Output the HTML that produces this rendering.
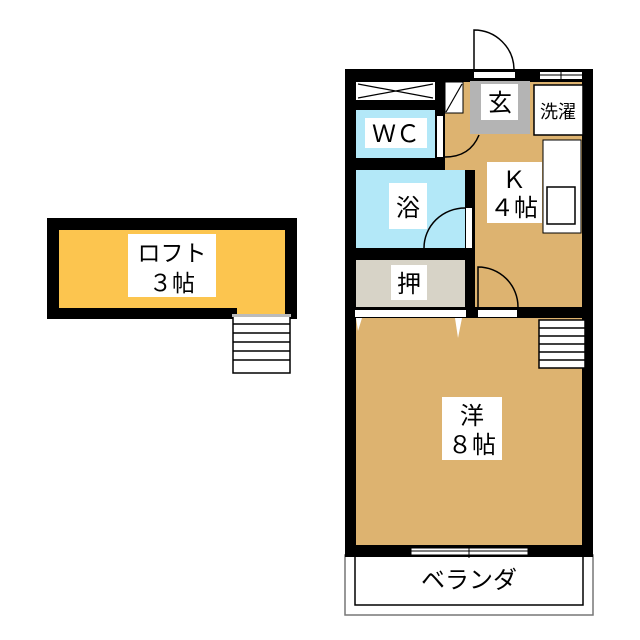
<!DOCTYPE html>
<html><head><meta charset="utf-8"><style>
html,body{margin:0;padding:0;background:#fff;}
svg{display:block;}
text{font-family:"Liberation Sans","Noto Sans CJK JP",sans-serif;fill:#000;}
</style></head><body>
<svg width="640" height="640" viewBox="0 0 640 640" xmlns="http://www.w3.org/2000/svg">
<rect x="47" y="218" width="250" height="101" fill="#000"/>
<rect x="59" y="230" width="226" height="78" fill="#fcc54f"/>
<rect x="237" y="300" width="48" height="19" fill="#fcc54f"/>
<rect x="128" y="234" width="88" height="63" fill="#fff"/>
<text x="172" y="261" font-size="23" text-anchor="middle">ロフト</text>
<text x="172" y="291" font-size="23" text-anchor="middle">３帖</text>
<rect x="233" y="315" width="57" height="58" fill="#fff" stroke="#000" stroke-width="1.5"/>
<rect x="232" y="314" width="59" height="3" fill="#bbb"/>
<g stroke="#000" stroke-width="1.5">
<line x1="233" y1="324" x2="290" y2="324"/><line x1="233" y1="333" x2="290" y2="333"/>
<line x1="233" y1="342" x2="290" y2="342"/><line x1="233" y1="351" x2="290" y2="351"/>
<line x1="233" y1="360" x2="290" y2="360"/></g>

<rect x="345" y="555" width="248" height="60" fill="#fff" stroke="#777" stroke-width="1.5"/>
<rect x="355" y="555" width="228" height="50" fill="#fff" stroke="#000" stroke-width="1.5"/>
<text x="469" y="588" font-size="24" text-anchor="middle">ベランダ</text>

<rect x="345" y="69" width="248" height="488" fill="#000"/>
<polygon points="445,82 582,82 582,307 475,307 475,170 445,170" fill="#ddb370"/>
<rect x="356" y="318" width="226" height="227" fill="#ddb370"/>
<rect x="356" y="82" width="79" height="18" fill="#fff"/>
<path d="M358 84 L433 98 M358 98 L433 84" stroke="#000" stroke-width="1.2" fill="none"/>
<rect x="356" y="110" width="79" height="48" fill="#b3e8f8"/>
<rect x="365" y="118" width="62" height="30" fill="#fff"/>
<text x="396" y="142" font-size="24" text-anchor="middle">ＷＣ</text>
<rect x="445" y="82" width="18" height="31" fill="#fff" stroke="#000" stroke-width="1"/>
<line x1="446" y1="112" x2="462" y2="84" stroke="#000" stroke-width="1.2"/>
<rect x="437" y="116" width="6" height="41" fill="#fff"/>
<path d="M445 157 Q470 157 479 135" stroke="#000" stroke-width="1.5" fill="none"/>
<rect x="356" y="170" width="109" height="78" fill="#b3e8f8"/>
<rect x="389" y="183" width="38" height="46" fill="#fff"/>
<text x="408" y="216" font-size="24" text-anchor="middle">浴</text>
<rect x="466" y="208" width="6" height="40" fill="#fff"/>
<path d="M424 248 A41 40 0 0 1 465 208" stroke="#000" stroke-width="1.5" fill="none"/>
<rect x="356" y="260" width="109" height="47" fill="#d7d3c7"/>
<rect x="391" y="265" width="36" height="35" fill="#fff"/>
<text x="409" y="292" font-size="24" text-anchor="middle">押</text>
<rect x="355" y="310" width="111" height="7" fill="#fff"/>
<polygon points="356,318 362,318 358,331" fill="#fff"/>
<polygon points="455,318 462,318 458,338" fill="#fff"/>
<rect x="470" y="81" width="60" height="53" fill="#b4b4b4"/>
<rect x="481" y="84" width="37" height="36" fill="#fff"/>
<text x="500" y="111" font-size="24" text-anchor="middle">玄</text>
<rect x="474" y="72" width="41" height="6" fill="#fff"/>
<path d="M474 69 L474 30 A40 40 0 0 1 514 69" stroke="#000" stroke-width="1.5" fill="#fff"/>
<rect x="540" y="72" width="42" height="7" fill="#fff"/>
<line x1="540" y1="75" x2="582" y2="75" stroke="#000" stroke-width="1"/>
<line x1="561" y1="70" x2="561" y2="80" stroke="#000" stroke-width="1"/>
<rect x="534" y="85" width="49" height="50" fill="#fff" stroke="#000" stroke-width="1.5"/>
<text x="558" y="118" font-size="18" text-anchor="middle">洗濯</text>
<rect x="487" y="162" width="55" height="61" fill="#fff"/>
<text x="514" y="188" font-size="24" text-anchor="middle">Ｋ</text>
<text x="514" y="216" font-size="24" text-anchor="middle">４帖</text>
<rect x="543" y="140" width="38" height="93" fill="#fff" stroke="#000" stroke-width="1"/>
<rect x="547" y="187" width="28" height="37" fill="#fff" stroke="#000" stroke-width="1.5"/>
<rect x="478" y="310" width="39" height="7" fill="#fff"/>
<path d="M478 307 L478 267 A40 40 0 0 1 518 307" stroke="#000" stroke-width="1.5" fill="none"/>
<rect x="539" y="320" width="46" height="48" fill="#fff" stroke="#000" stroke-width="1.5"/>
<g stroke="#000" stroke-width="1.5">
<line x1="539" y1="328" x2="585" y2="328"/><line x1="539" y1="336" x2="585" y2="336"/>
<line x1="539" y1="344" x2="585" y2="344"/><line x1="539" y1="352" x2="585" y2="352"/>
<line x1="539" y1="360" x2="585" y2="360"/></g>
<rect x="442" y="397" width="60" height="63" fill="#fff"/>
<text x="472" y="424" font-size="24" text-anchor="middle">洋</text>
<text x="472" y="453" font-size="24" text-anchor="middle">８帖</text>
<rect x="411" y="548" width="117" height="7" fill="#fff" stroke="#000" stroke-width="1"/>
<line x1="411" y1="551" x2="528" y2="551" stroke="#000" stroke-width="1"/>
<line x1="469" y1="545" x2="469" y2="558" stroke="#000" stroke-width="1"/>
</svg>
</body></html>
